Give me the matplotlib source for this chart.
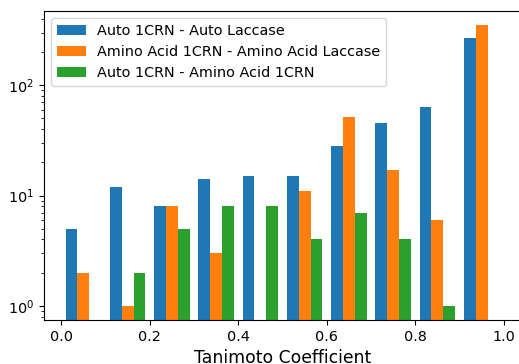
import numpy as np
import matplotlib
matplotlib.use('Agg')
import matplotlib.pyplot as plt

plt.rcParams['font.size'] = 10.4

# counts per bin (10 bins over 0..1)
bin_edges = np.linspace(0.0, 1.0, 11)
auto_auto = [5, 12, 8, 14, 15, 15, 28, 45, 64, 269]
amino_amino = [2, 1, 8, 3, 0, 11, 51, 17, 6, 352]
auto_amino = [0, 2, 5, 8, 8, 4, 7, 4, 1, 0]
labels = ['Auto 1CRN - Auto Laccase',
          'Amino Acid 1CRN - Amino Acid Laccase',
          'Auto 1CRN - Amino Acid 1CRN']

centers = (bin_edges[:-1] + bin_edges[1:]) / 2

fig = plt.figure(figsize=(5.19, 3.64), dpi=100)
ax = fig.add_axes([44 / 519, 44 / 364, 477 / 519, 309 / 364])
ax.hist([centers, centers, centers], bins=bin_edges,
        weights=[auto_auto, amino_amino, auto_amino],
        label=labels, log=True)
ax.set_ylim(0.746, 470)
ax.set_xlabel('Tanimoto Coefficient', fontsize=12.4)
ax.legend(loc='upper left')
fig.savefig('out.png', dpi=100)
